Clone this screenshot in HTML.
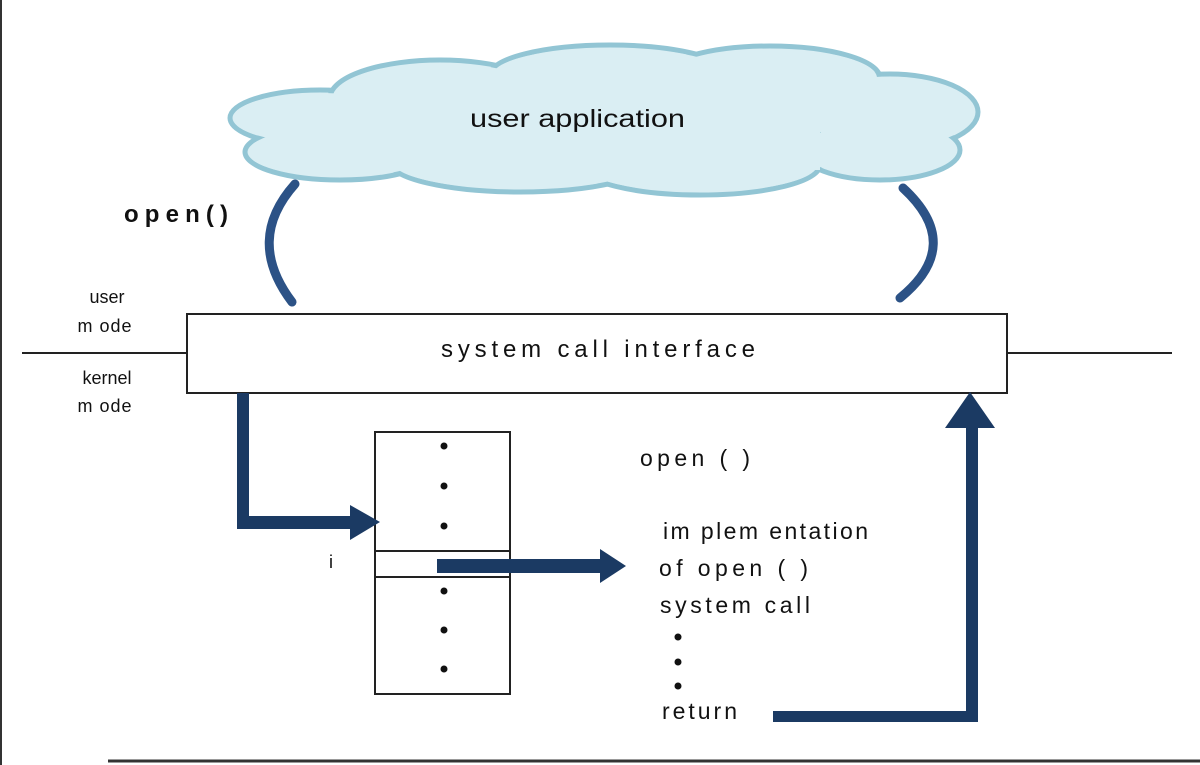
<!DOCTYPE html>
<html><head><style>
html,body{margin:0;padding:0;background:#fff;}
svg{display:block;}
text{font-family:"Liberation Sans",sans-serif;fill:#111;}
</style></head><body>
<svg width="1200" height="765" viewBox="0 0 1200 765" xmlns="http://www.w3.org/2000/svg">
<rect x="0" y="0" width="1200" height="765" fill="#fff"/>
<line x1="1" y1="0" x2="1" y2="765" stroke="#333" stroke-width="2"/>
<line x1="108" y1="761" x2="1200" y2="761" stroke="#333" stroke-width="3"/>
<!-- cloud -->
<g fill="#daeef3" stroke="#92c5d4" stroke-width="5">
<ellipse cx="320" cy="118" rx="90" ry="28"/>
<ellipse cx="340" cy="152" rx="95" ry="28"/>
<ellipse cx="440" cy="98" rx="110" ry="38"/>
<ellipse cx="610" cy="75" rx="120" ry="30"/>
<ellipse cx="770" cy="78" rx="110" ry="32"/>
<ellipse cx="890" cy="112" rx="88" ry="38"/>
<ellipse cx="880" cy="150" rx="80" ry="30"/>
<ellipse cx="520" cy="162" rx="130" ry="30"/>
<ellipse cx="700" cy="165" rx="120" ry="30"/>
</g>
<g fill="#daeef3">
<ellipse cx="320" cy="118" rx="87" ry="25"/>
<ellipse cx="340" cy="152" rx="92" ry="25"/>
<ellipse cx="440" cy="98" rx="107" ry="35"/>
<ellipse cx="610" cy="75" rx="117" ry="27"/>
<ellipse cx="770" cy="78" rx="107" ry="29"/>
<ellipse cx="890" cy="112" rx="85" ry="35"/>
<ellipse cx="880" cy="150" rx="77" ry="27"/>
<ellipse cx="520" cy="162" rx="127" ry="27"/>
<ellipse cx="700" cy="165" rx="117" ry="27"/>
<rect x="340" y="95" width="480" height="75"/>
</g>
<text x="470" y="127" font-size="25" textLength="215" lengthAdjust="spacingAndGlyphs">user application</text>
<!-- arcs -->
<path d="M295 184 Q245 240 292 302" fill="none" stroke="#2c5286" stroke-width="9" stroke-linecap="round"/>
<path d="M903 188 Q965 245 900 298" fill="none" stroke="#2c5286" stroke-width="9" stroke-linecap="round"/>
<text x="124" y="222" font-size="24" font-weight="bold" textLength="104" lengthAdjust="spacing">open()</text>
<!-- mode labels -->
<text x="107" y="303" font-size="18" text-anchor="middle">user</text>
<text x="105" y="332" font-size="18" text-anchor="middle" letter-spacing="1">m ode</text>
<text x="107" y="384" font-size="18" text-anchor="middle">kernel</text>
<text x="105" y="412" font-size="18" text-anchor="middle" letter-spacing="1">m ode</text>
<line x1="22" y1="353" x2="187" y2="353" stroke="#222" stroke-width="2"/>
<line x1="1007" y1="353" x2="1172" y2="353" stroke="#222" stroke-width="2"/>
<rect x="187" y="314" width="820" height="79" fill="#fff" stroke="#222" stroke-width="2"/>
<text x="441" y="357" font-size="24" textLength="314" lengthAdjust="spacing">system  call interface</text>
<!-- table -->
<rect x="375" y="432" width="135" height="262" fill="#fff" stroke="#222" stroke-width="2"/>
<line x1="375" y1="551" x2="510" y2="551" stroke="#222" stroke-width="2"/>
<line x1="375" y1="577" x2="510" y2="577" stroke="#222" stroke-width="2"/>
<g fill="#111">
<circle cx="444" cy="446" r="3.5"/><circle cx="444" cy="486" r="3.5"/><circle cx="444" cy="526" r="3.5"/>
<circle cx="444" cy="591" r="3.5"/><circle cx="444" cy="630" r="3.5"/><circle cx="444" cy="669" r="3.5"/>
<circle cx="678" cy="637" r="3.5"/><circle cx="678" cy="662" r="3.5"/><circle cx="678" cy="686" r="3.5"/>
</g>
<text x="329" y="568" font-size="18">i</text>
<!-- arrows -->
<g fill="#1b3a63">
<polygon points="237,393 249,393 249,516 350,516 350,505 380,522 350,540 350,529 237,529"/>
<polygon points="437,559 600,559 600,549 626,566 600,583 600,573 437,573"/>
<polygon points="773,711 966,711 966,428 945,428 970,392 995,428 978,428 978,722 773,722"/>
</g>
<!-- right text -->
<text x="640" y="466" font-size="23" textLength="110" lengthAdjust="spacing">open ( )</text>
<text x="663" y="539" font-size="23" textLength="205" lengthAdjust="spacing">im plem entation</text>
<text x="659" y="576" font-size="23" textLength="149" lengthAdjust="spacing">of open ( )</text>
<text x="660" y="613" font-size="23" textLength="150" lengthAdjust="spacing">system  call</text>
<text x="662" y="719" font-size="23" textLength="75" lengthAdjust="spacing">return</text>
</svg>
</body></html>
